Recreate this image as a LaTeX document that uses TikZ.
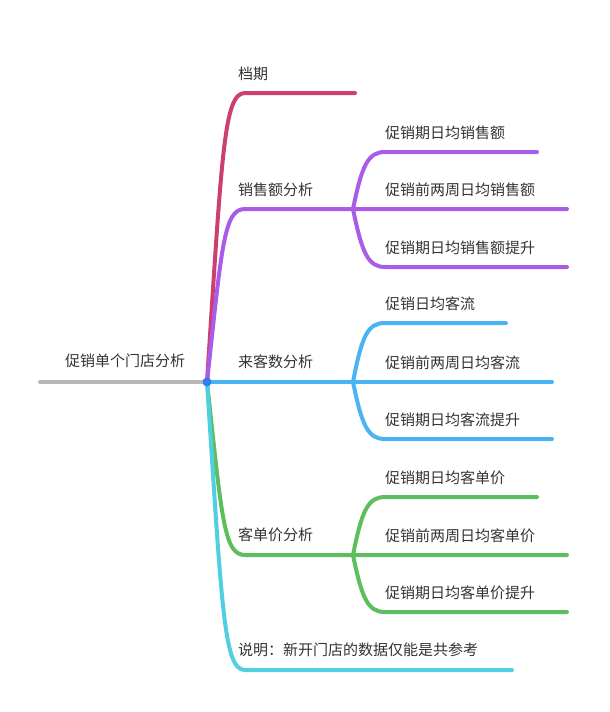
\documentclass[tikz,border=0pt]{standalone}
\usepackage{fontspec}
\setmainfont{Noto Sans CJK SC}
\usepackage{xcolor}
\usepackage{tikz}
\usetikzlibrary{positioning, calc}
\definecolor{rootgray}{HTML}{B8B8B8}
\definecolor{hubblue}{HTML}{2F7CF3}
\definecolor{branchred}{HTML}{CC3F6E}
\definecolor{branchpurple}{HTML}{A85CE8}
\definecolor{branchblue}{HTML}{4AB3F4}
\definecolor{branchgreen}{HTML}{5DBE5D}
\definecolor{branchcyan}{HTML}{4FCFE0}
\definecolor{textgray}{HTML}{333333}

\begin{document}
\begin{tikzpicture}[
    x=1pt, y=-1pt,
    topic/.style={anchor=west, inner sep=0pt, font=\fontsize{15}{18}\selectfont, text=textgray},
    branch/.style={line width=4pt, line cap=round, line join=round},
]
    \useasboundingbox (0,0) rectangle (610,712);

    % hub and fork points
    \coordinate (rootstart) at (40,382);
    \coordinate (hub) at (207,382);
    \coordinate (salesfork) at (353,209);
    \coordinate (visitfork) at (353,382);
    \coordinate (pricefork) at (353,555);

    % branch ends
    \coordinate (periodend) at (355,93);
    \coordinate (sales1end) at (537,152);
    \coordinate (sales2end) at (567,209);
    \coordinate (sales3end) at (567,267);
    \coordinate (visit1end) at (506,323);
    \coordinate (visit2end) at (552,382);
    \coordinate (visit3end) at (552,439);
    \coordinate (price1end) at (537,497);
    \coordinate (price2end) at (567,555);
    \coordinate (price3end) at (567,612);
    \coordinate (noteend) at (512,670);

    % main branches
    \draw[branch, branchred] (hub) .. controls (222,151) and (224,93) .. (245,93) -- (periodend);
    \draw[branch, branchpurple] (hub) .. controls (222,244) and (224,209) .. (245,209) -- (salesfork) -- (sales2end);
    \draw[branch, branchblue] (hub) -- (visitfork) -- (visit2end);
    \draw[branch, branchgreen] (hub) .. controls (222,520) and (224,555) .. (245,555) -- (pricefork) -- (price2end);
    \draw[branch, branchcyan] (hub) .. controls (222,612) and (224,670) .. (245,670) -- (noteend);

    % sub branches
    \draw[branch, branchpurple] (salesfork) .. controls (362,165) and (368,152) .. (385,152) -- (sales1end);
    \draw[branch, branchpurple] (salesfork) .. controls (362,253) and (368,267) .. (385,267) -- (sales3end);
    \draw[branch, branchblue] (visitfork) .. controls (362,335) and (368,323) .. (385,323) -- (visit1end);
    \draw[branch, branchblue] (visitfork) .. controls (362,426) and (368,439) .. (385,439) -- (visit3end);
    \draw[branch, branchgreen] (pricefork) .. controls (362,510) and (368,497) .. (385,497) -- (price1end);
    \draw[branch, branchgreen] (pricefork) .. controls (362,599) and (368,612) .. (385,612) -- (price3end);

    \draw[branch, rootgray] (rootstart) -- (hub);
    \fill[hubblue] (hub) circle (4.5);

    % labels
    \node[topic, anchor=center] (root) at (125,361) {促销单个门店分析};
    \node[topic] (period) at (238,74) {档期};
    \node[topic] (sales) at (238,190) {销售额分析};
    \node[topic] (visit) at (238,362) {来客数分析};
    \node[topic] (price) at (238,535) {客单价分析};
    \node[topic] (note) at (238,650) {说明：新开门店的数据仅能是共参考};

    \node[topic] (sales1) at (385,133) {促销期日均销售额};
    \node[topic] (sales2) at (385,190) {促销前两周日均销售额};
    \node[topic] (sales3) at (385,248) {促销期日均销售额提升};
    \node[topic] (visit1) at (385,304) {促销日均客流};
    \node[topic] (visit2) at (385,363) {促销前两周日均客流};
    \node[topic] (visit3) at (385,420) {促销期日均客流提升};
    \node[topic] (price1) at (385,478) {促销期日均客单价};
    \node[topic] (price2) at (385,536) {促销前两周日均客单价};
    \node[topic] (price3) at (385,593) {促销期日均客单价提升};
\end{tikzpicture}
\end{document}
